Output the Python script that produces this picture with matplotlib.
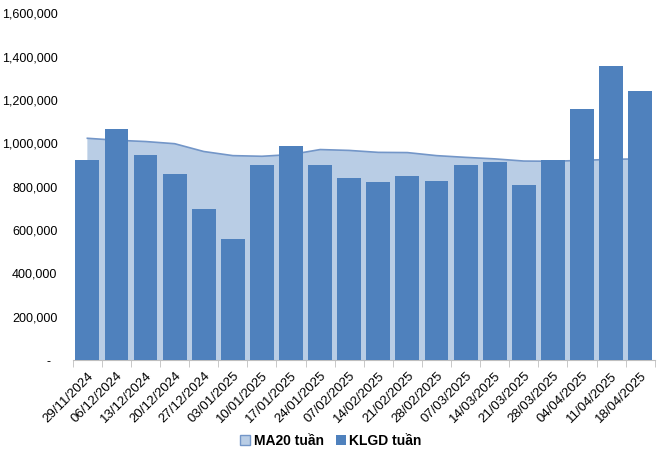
import matplotlib.pyplot as plt
import numpy as np
from matplotlib.ticker import FuncFormatter
from matplotlib.patches import Patch

plt.rcParams['font.family'] = ['Liberation Sans', 'DejaVu Sans']

weeks = ["29/11/2024", "06/12/2024", "13/12/2024", "20/12/2024", "27/12/2024",
         "03/01/2025", "10/01/2025", "17/01/2025", "24/01/2025", "07/02/2025",
         "14/02/2025", "21/02/2025", "28/02/2025", "07/03/2025", "14/03/2025",
         "21/03/2025", "28/03/2025", "04/04/2025", "11/04/2025", "18/04/2025"]

klgd = [921000, 1064000, 945000, 857000, 696000,
        558000, 898000, 986000, 898000, 839000,
        820000, 848000, 825000, 898000, 912000,
        806000, 921000, 1157000, 1355000, 1240000]

ma20 = [1023000, 1014000, 1008000, 998000, 962000,
        943000, 940000, 948000, 971000, 967000,
        958000, 957000, 943000, 935000, 928000,
        918000, 917000, 921000, 926000, 928000]

x = np.arange(len(weeks))

fig = plt.figure(figsize=(6.62, 4.53), dpi=100)
ax = fig.add_axes([0.110, 0.205, 0.879, 0.766])

ax.fill_between(x, 0, ma20, color="#B9CDE5", edgecolor="none", zorder=1)
ax.plot(x, ma20, color="#7396C8", lw=1.2, zorder=2)
ax.bar(x, klgd, width=0.82, color="#4F81BD", zorder=3)

ax.set_xlim(-0.5, len(weeks) - 0.5)
ax.set_ylim(0, 1600000)
ax.set_yticks(np.arange(0, 1600001, 200000))
# excel style: zero shown as a dash
ax.yaxis.set_major_formatter(FuncFormatter(lambda v, p: "-  " if v == 0 else f"{v:,.0f}"))
ax.tick_params(axis="y", length=0, labelsize=9, pad=11)

ax.set_xticks(x)
ax.set_xticklabels(weeks, rotation=45, ha="right", rotation_mode="anchor", fontsize=9.5)
ax.tick_params(axis="x", length=0, pad=7)
ax.set_xticks(np.arange(-0.5, len(weeks)), minor=True)
ax.tick_params(axis="x", which="minor", length=5, color="#BFBFBF", direction="out")

for s in ["top", "right", "left"]:
    ax.spines[s].set_visible(False)
ax.spines["bottom"].set_color("#BFBFBF")

handles = [Patch(facecolor="#B9CDE5", edgecolor="#7396C8", label="MA20 tuần"),
           Patch(facecolor="#4F81BD", label="KLGD tuần")]
leg = fig.legend(handles=handles, loc="center", bbox_to_anchor=(0.5, 0.027), ncol=2,
                 frameon=False, handlelength=0.7, handleheight=0.7, handletextpad=0.25,
                 columnspacing=0.9, prop={"weight": "bold", "size": 10})

fig.savefig("out.png", dpi=100)
